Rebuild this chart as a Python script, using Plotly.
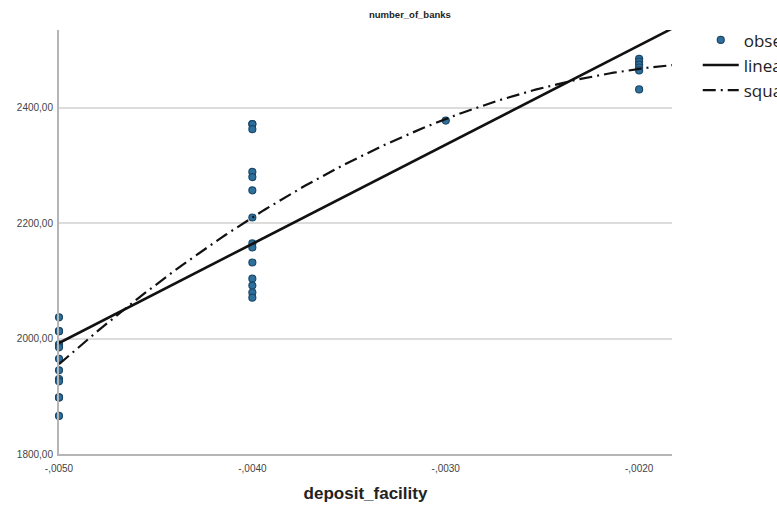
import numpy as np
import plotly.graph_objects as go

# Observed deposit facility rates and number of banks
deposit_facility = (
    [-0.005] * 12
    + [-0.004] * 14
    + [-0.003]
    + [-0.002] * 6
)
number_of_banks = [
    2037, 2013, 2013, 1990, 1985, 1965, 1945, 1930, 1926, 1898, 1898, 1866,
    2372, 2372, 2363, 2289, 2280, 2257, 2210, 2165, 2158, 2132, 2104, 2092, 2080, 2071,
    2378,
    2485, 2480, 2475, 2470, 2465, 2432,
]

x_tick_vals = [-0.005, -0.004, -0.003, -0.002]
x_tick_text = ["-,0050", "-,0040", "-,0030", "-,0020"]
y_tick_vals = [1800, 2000, 2200, 2400]
y_tick_text = ["1800,00", "2000,00", "2200,00", "2400,00"]

x_range = [-0.005, -0.00183]
y_range = [1800, 2535]

x = np.array(deposit_facility, dtype=float)
y = np.array(number_of_banks, dtype=float)

# Least-squares fits: linear and quadratic
lin = np.polyfit(x, y, 1)
quad = np.polyfit(x, y, 2)
xs = np.linspace(x_range[0], x_range[1], 200)

fig = go.Figure()
fig.add_trace(go.Scatter(
    x=x, y=y, mode="markers", name="observed",
    marker=dict(size=7, color="#2f6f9c", line=dict(color="#1b4868", width=1.2)),
    cliponaxis=False,
))
fig.add_trace(go.Scatter(
    x=xs, y=np.polyval(lin, xs), mode="lines", name="linear",
    line=dict(color="#111111", width=2.6),
))
fig.add_trace(go.Scatter(
    x=xs, y=np.polyval(quad, xs), mode="lines", name="squared",
    line=dict(color="#111111", width=2.2, dash="13px,5px,2px,5px"),
))

axis_font = dict(family="Liberation Sans, Arial, sans-serif", size=10, color="#444444")

fig.update_layout(
    width=777, height=508,
    margin=dict(l=59, r=105, t=30, b=54, autoexpand=False),
    paper_bgcolor="white", plot_bgcolor="white",
    showlegend=True,
    legend=dict(
        x=1.042, y=1.018, xanchor="left", yanchor="top",
        font=dict(family="Open Sans, sans-serif", size=17, color="#222222"),
        bgcolor="rgba(0,0,0,0)", itemwidth=36, tracegroupgap=0,
    ),
    annotations=[
        dict(text="<b>number_of_banks</b>", xref="paper", yref="paper",
             x=(410 - 59) / 613, y=1.0, yshift=16, showarrow=False,
             xanchor="center", yanchor="middle",
             font=dict(family="Liberation Sans, Arial, sans-serif", size=9.5, color="#222222")),
    ],
    xaxis=dict(
        range=x_range, tickvals=x_tick_vals, ticktext=x_tick_text,
        showgrid=False, zeroline=False,
        showline=True, linecolor="#b5b5b5", linewidth=2,
        ticks="", tickfont=axis_font, ticklabelstandoff=4,
        title=dict(text="<b>deposit_facility</b>", standoff=14,
                   font=dict(family="Liberation Sans, Arial, sans-serif", size=17, color="#222222")),
    ),
    yaxis=dict(
        range=y_range, tickvals=y_tick_vals, ticktext=y_tick_text,
        showgrid=True, gridcolor="#dcdcdc", gridwidth=2,
        zeroline=False,
        showline=True, linecolor="#b5b5b5", linewidth=2,
        ticks="", tickfont=axis_font, ticklabelstandoff=2,
    ),
)

fig.write_html("out.html")
